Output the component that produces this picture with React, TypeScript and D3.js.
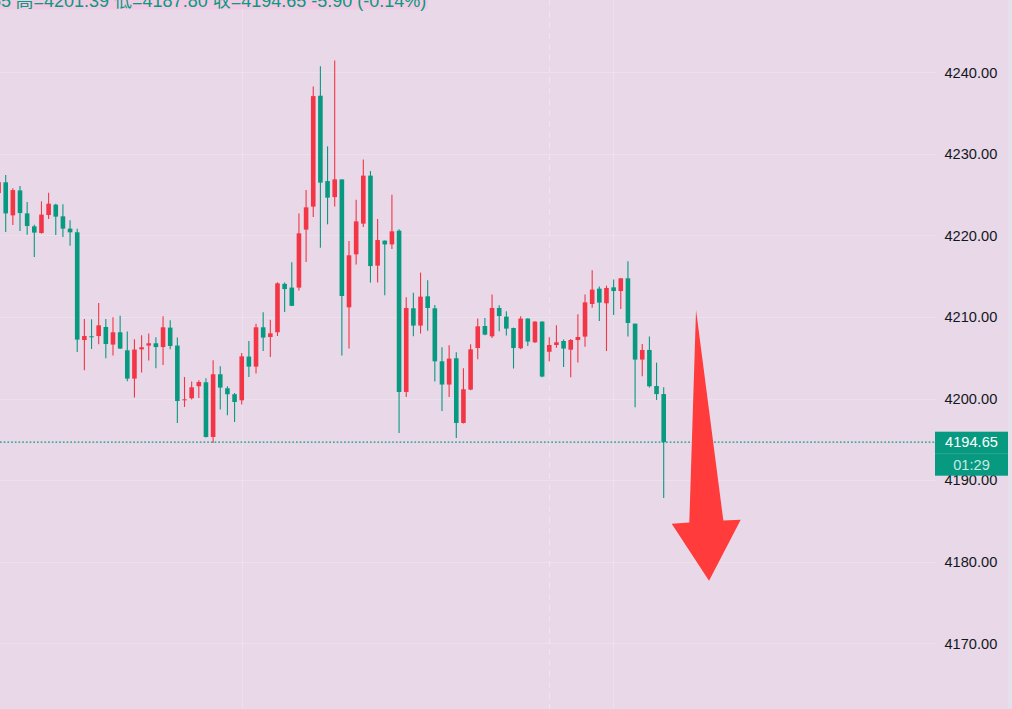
import React from 'react';
import * as d3 from 'd3';

const openP = [4225.20,4226.52,4222.47,4225.53,4222.71,4221.12,4220.30,4222.51,4223.78,4222.35,4220.84,4220.39,4207.18,4207.64,4207.67,4208.78,4206.62,4208.13,4205.92,4202.45,4206.04,4206.50,4206.78,4206.32,4208.70,4206.50,4199.79,4200.04,4201.51,4202.00,4195.29,4202.98,4201.26,4200.53,4199.79,4205.15,4203.92,4208.74,4207.55,4208.13,4214.07,4213.61,4213.61,4220.72,4223.54,4237.14,4226.67,4224.71,4226.88,4211.19,4217.69,4221.45,4227.34,4216.30,4219.37,4218.91,4220.59,4200.81,4211.07,4208.95,4212.54,4211.07,4204.57,4201.72,4204.94,4197.01,4201.10,4206.20,4208.90,4207.64,4211.11,4210.05,4208.65,4206.17,4209.81,4206.90,4209.44,4205.74,4206.57,4207.06,4205.99,4207.18,4207.60,4211.60,4213.48,4211.68,4213.64,4213.19,4214.75,4209.19,4204.78,4205.96,4201.54,4200.55];
const highP = [4227.25,4227.41,4225.78,4226.06,4224.10,4221.33,4224.19,4225.25,4223.90,4223.82,4221.86,4220.84,4209.76,4209.72,4211.72,4209.76,4209.97,4210.17,4208.21,4207.27,4207.76,4207.97,4207.51,4210.09,4209.60,4207.48,4202.65,4202.08,4202.24,4202.49,4204.69,4203.96,4201.51,4200.69,4205.59,4207.06,4209.19,4210.58,4209.68,4214.26,4214.22,4216.71,4222.71,4225.57,4238.28,4240.74,4230.93,4241.47,4226.88,4219.32,4224.39,4229.33,4227.90,4222.02,4219.40,4225.01,4220.75,4212.42,4212.99,4215.45,4214.50,4211.47,4206.29,4206.53,4205.67,4203.71,4206.66,4209.81,4209.88,4212.75,4211.44,4210.70,4208.70,4210.09,4209.84,4209.48,4209.48,4207.51,4208.98,4207.23,4207.31,4210.33,4212.75,4215.73,4213.73,4213.85,4214.59,4214.75,4216.83,4209.19,4206.69,4207.60,4204.41,4201.39];
const lowP = [4224.55,4220.42,4221.28,4220.54,4220.10,4217.36,4220.23,4222.02,4220.05,4219.81,4218.75,4205.71,4203.47,4206.08,4206.66,4204.94,4205.27,4206.08,4202.12,4200.12,4203.19,4204.66,4203.71,4204.12,4206.04,4197.01,4198.97,4199.88,4200.07,4195.22,4194.56,4198.65,4197.95,4197.13,4199.26,4202.65,4203.06,4205.83,4205.10,4207.67,4210.62,4211.35,4213.24,4216.74,4222.26,4218.51,4221.37,4223.54,4205.27,4206.13,4216.43,4221.04,4214.22,4214.22,4212.66,4218.34,4195.78,4200.20,4207.64,4207.97,4208.33,4202.08,4198.48,4200.20,4195.17,4196.95,4201.02,4204.82,4207.76,4207.43,4208.25,4207.72,4203.68,4206.04,4206.45,4206.81,4202.60,4204.57,4206.23,4203.87,4202.61,4204.41,4206.37,4211.15,4209.51,4205.83,4210.25,4210.98,4207.60,4198.93,4202.73,4201.35,4199.83,4187.80];
const closeP = [4226.55,4222.71,4225.57,4222.75,4221.16,4220.35,4222.56,4223.90,4222.31,4220.84,4220.39,4207.23,4207.67,4207.55,4208.98,4206.69,4208.13,4206.13,4202.45,4206.01,4206.29,4206.78,4206.32,4208.74,4206.45,4199.70,4199.91,4201.38,4202.03,4195.29,4202.98,4201.35,4200.53,4199.58,4205.18,4203.92,4208.74,4207.48,4208.00,4214.13,4213.43,4211.37,4220.26,4223.45,4237.09,4226.48,4224.64,4226.88,4212.58,4217.57,4221.73,4227.34,4216.25,4219.44,4218.91,4220.51,4200.81,4211.11,4208.95,4212.50,4211.11,4204.57,4201.72,4204.90,4197.01,4201.14,4206.04,4208.86,4207.84,4211.11,4210.12,4208.58,4206.20,4209.81,4206.99,4209.44,4202.70,4206.57,4206.90,4206.13,4207.18,4207.55,4211.80,4213.36,4211.77,4213.56,4213.19,4214.75,4209.27,4204.78,4205.96,4201.51,4200.55,4194.65];

const yTicks = [4170, 4180, 4190, 4200, 4210, 4220, 4230, 4240];
const lastPrice = 4194.65;
const countdown = '01:29';
const legendOpen = '开=4200.55';
const legendRest = '高=4201.39 低=4187.80 收=4194.65 -5.90 (-0.14%)';
const vGridIdx = [34.05, 85.9];
const sessionIdx = [76.96];
const arrowPts: [number, number][] = [
  [97.52, 4210.87],
  [101.34, 4185.04],
  [103.77, 4185.13],
  [99.34, 4177.65],
  [94.12, 4184.64],
  [96.58, 4184.8],
];

const UP = '#F23645';
const DOWN = '#089981';
const BG = '#E8D8E8';
const GRID = '#ECE2ED';
const FONT = '"Liberation Sans", "Noto Sans CJK SC", sans-serif';

export default function App() {
  const W = 1012;
  const H = 709;
  const plotRight = 935;
  const x = d3.scaleLinear().domain([0, 93]).range([-1.45, 663.7]);
  const y = d3.scaleLinear().domain([4170, 4240]).range([643.2, 72.4]);
  const bodyW = 4.6;
  const candles = openP.map((o, i) => ({ i, o, h: highP[i], l: lowP[i], c: closeP[i] }));
  const arrowLine = d3.line<[number, number]>().x((d) => x(d[0])).y((d) => y(d[1]));
  const ly = y(lastPrice);

  return (
    <svg
      width={W}
      height={H}
      style={{ position: 'absolute', left: 0, top: 0, display: 'block' }}
      fontFamily={FONT}
    >
      <rect x={0} y={0} width={W} height={H} fill={BG} />
      <rect x={1008} y={0} width={4} height={H} fill="#E3E0EB" />
      {yTicks.map((t) => (
        <line key={t} x1={0} x2={plotRight} y1={Math.round(y(t)) + 0.5} y2={Math.round(y(t)) + 0.5} stroke={GRID} strokeWidth={1} />
      ))}
      {vGridIdx.map((v) => (
        <line key={v} x1={Math.round(x(v)) + 0.5} x2={Math.round(x(v)) + 0.5} y1={0} y2={H} stroke={GRID} strokeWidth={1} />
      ))}
      {sessionIdx.map((v) => (
        <line key={v} x1={Math.round(x(v)) + 0.5} x2={Math.round(x(v)) + 0.5} y1={0} y2={H} stroke="#EEE6EF" strokeWidth={1} strokeDasharray="6,5" />
      ))}
      <line x1={plotRight + 0.5} x2={plotRight + 0.5} y1={0} y2={H} stroke="#E2DCE6" strokeWidth={1} />

      {candles.map((d) => {
        const col = d.c >= d.o ? UP : DOWN;
        const cx = x(d.i);
        const top = y(Math.max(d.o, d.c));
        const bot = y(Math.min(d.o, d.c));
        return (
          <g key={d.i}>
            <line x1={cx} x2={cx} y1={y(d.h)} y2={y(d.l)} stroke={col} strokeWidth={1.1} />
            <rect x={cx - bodyW / 2} y={top} width={bodyW} height={Math.max(1, bot - top)} fill={col} />
          </g>
        );
      })}

      <line x1={0} x2={plotRight} y1={ly} y2={ly} stroke={DOWN} strokeWidth={1.2} strokeDasharray="1.7,2" />

      <path d={(arrowLine(arrowPts) || '') + 'Z'} fill="#FF3B3B" />

      <rect x={0} y={0} width={428} height={9.5} fill="#F0CBE3" />
      <text x={11} y={7.2} fontSize={18} fill={DOWN} textAnchor="end">{legendOpen}</text>
      <text x={15.5} y={7.2} fontSize={18} fill={DOWN}>{legendRest}</text>

      {yTicks.map((t) => (
        <text key={t} x={944.5} y={y(t) + 5.3} fontSize={14.6} fill="#131722">
          {t.toFixed(2)}
        </text>
      ))}

      <rect x={935} y={ly - 10.5} width={73} height={44} fill={DOWN} />
      <line x1={935} x2={1008} y1={ly + 11.5} y2={ly + 11.5} stroke="#2AA88F" strokeWidth={1} />
      <text x={971.5} y={ly + 4.9} fontSize={14.6} fill="#FFFFFF" textAnchor="middle">
        {lastPrice.toFixed(2)}
      </text>
      <text x={971.5} y={ly + 27.5} fontSize={14.6} fill="#C8EAE2" textAnchor="middle">
        {countdown}
      </text>
    </svg>
  );
}
